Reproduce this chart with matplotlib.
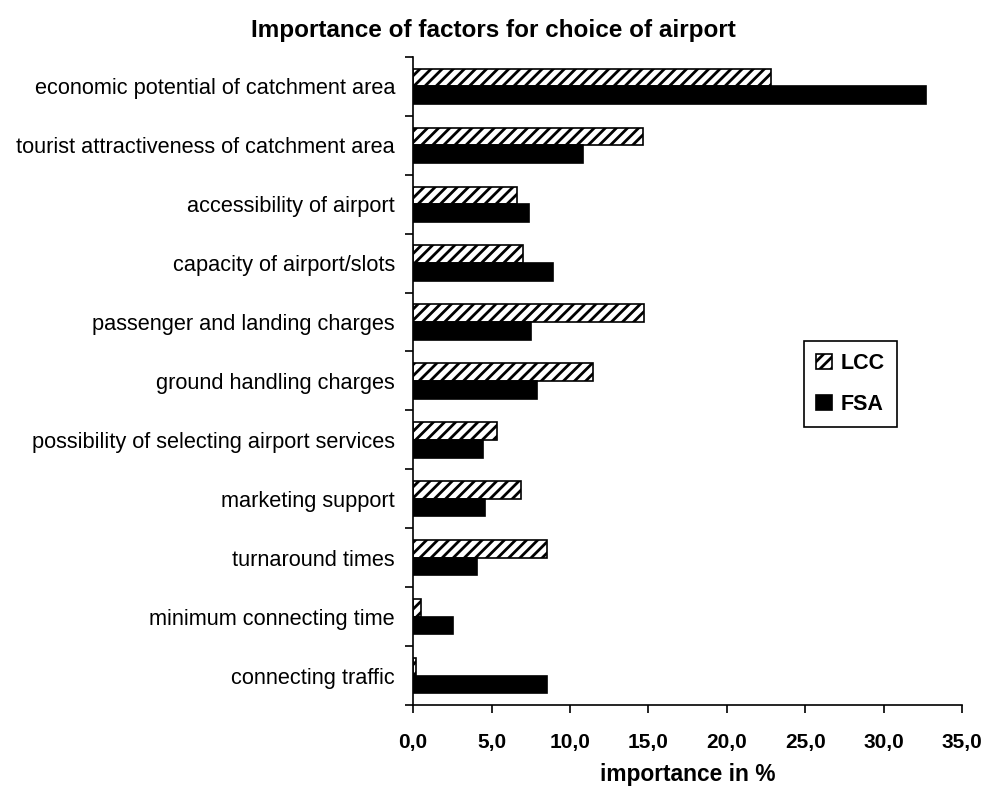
import numpy as np
import matplotlib.pyplot as plt
from matplotlib.ticker import FuncFormatter, FixedLocator

plt.rcParams['font.family'] = ['Liberation Sans', 'DejaVu Sans']
plt.rcParams['hatch.linewidth'] = 2.0

factors = ['economic potential of catchment area',
           'tourist attractiveness of catchment area',
           'accessibility of airport',
           'capacity of airport/slots',
           'passenger and landing charges',
           'ground handling charges',
           'possibility of selecting airport services',
           'marketing support',
           'turnaround times',
           'minimum connecting time',
           'connecting traffic']
lcc = [22.8, 14.65, 6.6, 7.0, 14.7, 11.45, 5.35, 6.9, 8.55, 0.5, 0.2]
fsa = [32.7, 10.8, 7.4, 8.95, 7.5, 7.9, 4.45, 4.6, 4.1, 2.55, 8.55]

fig = plt.figure(figsize=(9.86, 7.9), dpi=100)
ax = fig.add_axes([0.419, 0.1076, 0.5567, 0.8204])

y = np.arange(len(factors))
h = 0.3
ax.barh(y - h / 2, lcc, height=h, color='white', edgecolor='black',
        hatch='///', linewidth=1.2, label='LCC')
ax.barh(y + h / 2, fsa, height=h, color='black', edgecolor='black',
        linewidth=1.2, label='FSA')

ax.set_ylim(len(factors) - 0.5, -0.5)
ax.set_xlim(0, 35)
ax.set_yticks(y)
ax.set_yticklabels(factors, fontsize=15.7)
ax.yaxis.set_minor_locator(FixedLocator(np.arange(-0.5, len(factors), 1)))
ax.tick_params(axis='y', which='major', length=0, pad=13)
ax.tick_params(axis='y', which='minor', length=6, width=1.2, direction='out')

ax.set_xticks(np.arange(0, 36, 5))
ax.xaxis.set_major_formatter(FuncFormatter(lambda v, p: f'{v:.1f}'.replace('.', ',')))
ax.tick_params(axis='x', length=6, width=1.2, direction='out', pad=14, labelsize=15)
for lab in ax.get_xticklabels():
    lab.set_fontweight('bold')

for s in ['top', 'right']:
    ax.spines[s].set_visible(False)
for s in ['left', 'bottom']:
    ax.spines[s].set_linewidth(1.2)

ax.set_xlabel('importance in %', fontsize=16.4, fontweight='bold', labelpad=8)
fig.text(0.5, 0.962, 'Importance of factors for choice of airport', ha='center',
         va='center', fontsize=17.5, fontweight='bold')

leg = ax.legend(loc='upper left', bbox_to_anchor=(0.712, 0.562), borderaxespad=0,
                fancybox=False, framealpha=1, edgecolor='black',
                prop={'weight': 'bold', 'size': 15.5}, handlelength=0.75,
                handleheight=0.7, handletextpad=0.4, labelspacing=0.95,
                borderpad=0.55)
leg.get_frame().set_linewidth(1.2)

fig.savefig('out.png', dpi=100)
